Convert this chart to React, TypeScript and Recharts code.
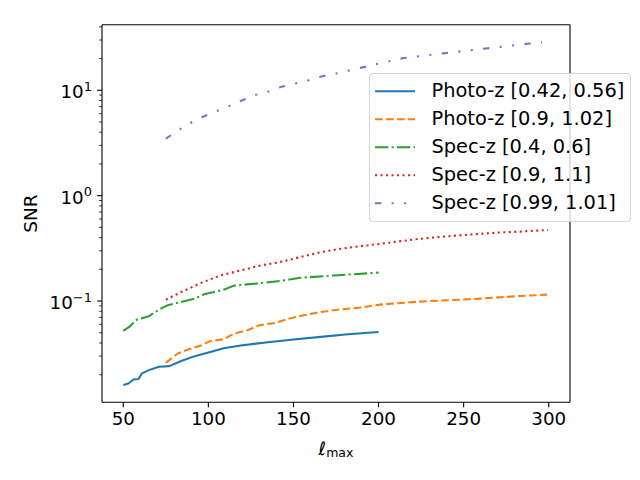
import { LineChart, Line, XAxis, YAxis, Legend, Label, ReferenceLine } from "recharts"

// ell_max sampling and SNR per selection
const photoZ042Ell = [50, 53, 56, 59, 61, 65, 71, 77, 84, 92, 99, 109, 119, 135, 150, 166, 182, 200]
const photoZ042Snr = [0.016, 0.0165, 0.018, 0.0182, 0.0206, 0.0221, 0.0238, 0.0241, 0.027, 0.03, 0.0322, 0.0357, 0.0379, 0.0407, 0.0431, 0.0457, 0.0484, 0.0509]

const photoZ090Ell = [75, 82, 88, 96, 101, 109, 115, 123, 130, 139, 146, 156, 166, 178, 189, 201, 213, 224, 236, 248, 260, 271, 283, 299]
const photoZ090Snr = [0.0259, 0.0318, 0.0347, 0.0381, 0.0416, 0.0434, 0.049, 0.0528, 0.0589, 0.062, 0.0671, 0.0732, 0.0787, 0.0834, 0.0866, 0.0925, 0.0958, 0.0987, 0.101, 0.103, 0.1054, 0.1084, 0.1115, 0.115]

const specZ040Ell = [50, 53.5, 58, 65, 72, 76, 84, 92, 97.5, 109, 115, 127, 142, 154, 174, 200]
const specZ040Snr = [0.052, 0.0568, 0.0667, 0.0717, 0.0848, 0.091, 0.098, 0.1054, 0.1157, 0.128, 0.14, 0.146, 0.155, 0.166, 0.175, 0.186]

const specZ090Ell = [75, 84, 95.5, 107, 119, 131, 142, 154, 166, 177.5, 189, 201, 213, 224, 236, 248, 259.5, 271, 283, 299.6]
const specZ090Snr = [0.103, 0.1217, 0.148, 0.175, 0.195, 0.218, 0.234, 0.261, 0.291, 0.313, 0.331, 0.349, 0.37, 0.389, 0.406, 0.421, 0.434, 0.447, 0.456, 0.473]

const specZ099Ell = [75, 83, 89, 97, 105, 112, 120, 127, 135, 143, 151, 158, 167, 175, 182, 190, 214, 238, 261, 281, 296]
const specZ099Snr = [3.47, 4.23, 4.86, 5.62, 6.37, 7.05, 8.03, 8.97, 9.7, 10.8, 11.6, 12.3, 13.6, 14.4, 15.3, 16.4, 20.1, 22.4, 24.7, 26.9, 28.5]

const xTicks = [50, 100, 150, 200, 250, 300]
const yTicks = [
    0.02, 0.03, 0.04, 0.05, 0.06, 0.07, 0.08, 0.09,
    0.1, 0.2, 0.3, 0.4, 0.5, 0.6, 0.7, 0.8, 0.9,
    1, 2, 3, 4, 5, 6, 7, 8, 9,
    10, 20, 30, 40,
]

const xDomain = [37.5, 312.5]
const yDomain = [0.01094, 41.9]

const toPoints = (ell: number[], snr: number[]) => ell.map((l, i) => ({ ell: l, snr: snr[i] }))

const LW = 2.08
const FONT = "DejaVu Sans"

const series = [
    { name: "Photo-z [0.42, 0.56]", data: toPoints(photoZ042Ell, photoZ042Snr), color: "#1f77b4", dash: undefined },
    { name: "Photo-z [0.9, 1.02]", data: toPoints(photoZ090Ell, photoZ090Snr), color: "#ff7f0e", dash: "7.7 3.3" },
    { name: "Spec-z [0.4, 0.6]", data: toPoints(specZ040Ell, specZ040Snr), color: "#2ca02c", dash: "13.3 3.3 2.1 3.3" },
    { name: "Spec-z [0.9, 1.1]", data: toPoints(specZ090Ell, specZ090Snr), color: "#d62728", dash: "2.1 3.4" },
    { name: "Spec-z [0.99, 1.01]", data: toPoints(specZ099Ell, specZ099Snr), color: "#9467bd", dash: "6.25 10.4 2.08 10.4 2.08 10.4" },
]

function LogTick(props: any) {
    const { x, y, payload } = props
    const v = payload.value
    const exp = Math.round(Math.log10(v))
    const major = Math.abs(Math.log10(v) - exp) < 1e-6
    if (!major) {
        return <line x1={x} x2={x - 2.8} y1={y} y2={y} stroke="#000" strokeWidth={0.8} />
    }
    const expText = exp < 0 ? `\u2212${-exp}` : `${exp}`
    return (
        <g>
            <line x1={x} x2={x - 4.9} y1={y} y2={y} stroke="#000" strokeWidth={1.1} />
            <text x={x - 10} y={y + 8} textAnchor="end" fontFamily={FONT} fontSize={18.3} fill="#000">
                10<tspan dy={-7.3} fontSize={13}>{expText}</tspan>
            </text>
        </g>
    )
}

function LegendBox() {
    return (
        <div
            style={{
                boxSizing: "border-box",
                width: 262,
                height: 149,
                border: "1px solid rgba(204,204,204,0.8)",
                borderRadius: 4,
                background: "rgba(255,255,255,0.8)",
            }}
        >
            <svg width={260} height={147} style={{ display: "block" }}>
                {series.map((s, i) => {
                    const cy = 17.2 + i * 28
                    return (
                        <g key={s.name}>
                            <line x1={5} x2={45} y1={cy} y2={cy} stroke={s.color} strokeWidth={LW} strokeDasharray={s.dash} />
                            <text x={61.5} y={cy + 5.5} fontFamily={FONT} fontSize={19.4} fill="#000">
                                {s.name}
                            </text>
                        </g>
                    )
                })}
            </svg>
        </div>
    )
}

export default function App() {
    return (
        <div style={{ position: "absolute", left: 0, top: 0, background: "#fff" }}>
            <LineChart width={640} height={480} margin={{ top: 24.7, right: 70, bottom: 0, left: 0 }}>
                <XAxis
                    dataKey="ell"
                    type="number"
                    domain={xDomain}
                    allowDataOverflow
                    ticks={xTicks}
                    interval={0}
                    height={77.7}
                    tickSize={4.9}
                    tickMargin={5}
                    axisLine={{ stroke: "#000", strokeWidth: 1.1 }}
                    tickLine={{ stroke: "#000", strokeWidth: 1.1 }}
                    tick={{ fill: "#000", fontSize: 18.3, fontFamily: FONT }}
                >
                    <Label
                        content={(p: any) => {
                            const vb = p.viewBox
                            const cx = vb.x + vb.width / 2
                            return (
                                <text x={cx} y={455} textAnchor="middle" fontFamily={FONT} fontSize={18.3} fill="#000">
                                    <tspan fontStyle="italic">ℓ</tspan>
                                    <tspan dy={2} fontSize={12.5}>max</tspan>
                                </text>
                            )
                        }}
                    />
                </XAxis>
                <YAxis
                    dataKey="snr"
                    type="number"
                    scale="log"
                    domain={yDomain}
                    allowDataOverflow
                    ticks={yTicks}
                    interval={0}
                    width={102}
                    tickSize={0}
                    tickMargin={0}
                    tickLine={false}
                    axisLine={{ stroke: "#000", strokeWidth: 1.1 }}
                    tick={<LogTick />}
                >
                    <Label
                        content={(p: any) => {
                            const vb = p.viewBox
                            const cy = vb.y + vb.height / 2
                            return (
                                <text
                                    x={36.5}
                                    y={cy}
                                    transform={`rotate(-90, 36.5, ${cy})`}
                                    textAnchor="middle"
                                    fontFamily={FONT}
                                    fontSize={18.5}
                                    fill="#000"
                                >
                                    SNR
                                </text>
                            )
                        }}
                    />
                </YAxis>
                {/* top and right spines */}
                <ReferenceLine y={yDomain[1]} stroke="#000" strokeWidth={1.1} ifOverflow="visible" />
                <ReferenceLine x={xDomain[1]} stroke="#000" strokeWidth={1.1} ifOverflow="visible" />
                {series.map((s) => (
                    <Line
                        key={s.name}
                        name={s.name}
                        data={s.data}
                        dataKey="snr"
                        type="linear"
                        stroke={s.color}
                        strokeWidth={LW}
                        strokeDasharray={s.dash}
                        strokeLinejoin="round"
                        dot={false}
                        activeDot={false}
                        isAnimationActive={false}
                    />
                ))}
                <Legend
                    layout="vertical"
                    align="center"
                    verticalAlign="middle"
                    wrapperStyle={{ left: 369.3, top: 72.7, width: 262, height: 149 }}
                    content={() => <LegendBox />}
                />
            </LineChart>
        </div>
    )
}
